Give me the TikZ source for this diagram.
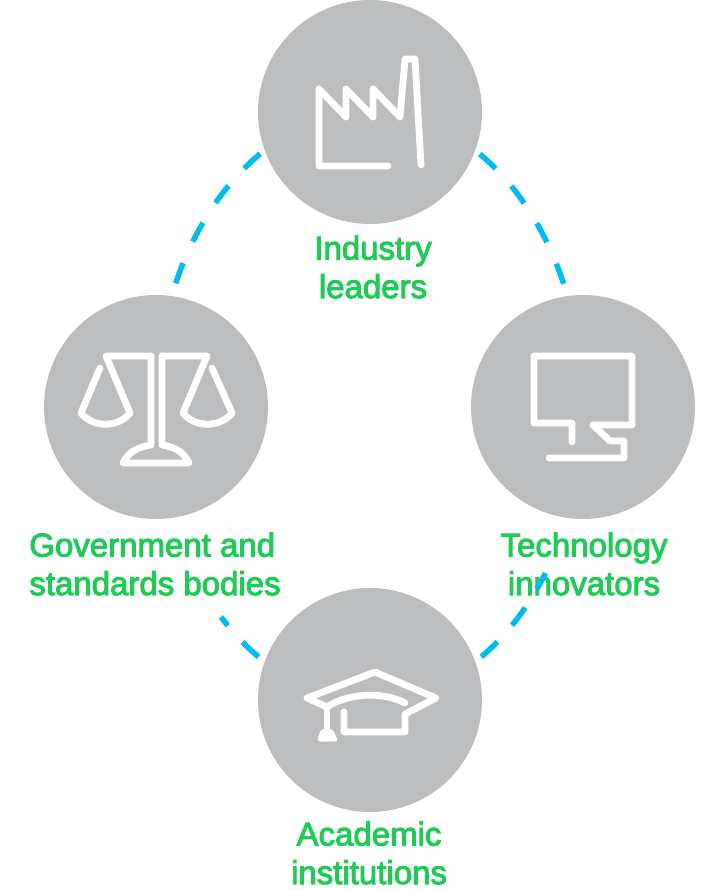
\documentclass[tikz,border=0pt]{standalone}
\usepackage{fontspec}
\newfontfamily\labelfont[FakeBold=3]{Liberation Sans}
\definecolor{discgrey}{HTML}{BCBDBF}
\definecolor{linkblue}{HTML}{00BCF0}
\definecolor{labelgreen}{HTML}{1FCB57}
\tikzset{
  disc/.style={circle, fill=discgrey, minimum size=224pt, inner sep=0pt},
  lab/.style={text=labelgreen, align=center, font=\labelfont\fontsize{33}{38.5}\selectfont},
  link/.style={linkblue, line width=5.5pt},
  toplink/.style={link, dash pattern=on 0pt off 120pt on 21.5pt off 23.5pt on 21.5pt off 23.5pt on 21.5pt off 23.5pt on 21.5pt off 1000pt},
  icon/.style={white, line width=6.8pt, line cap=round, line join=round}
}
\begin{document}
\begin{tikzpicture}[x=1pt, y=-1pt]
  \useasboundingbox (0,0) rectangle (720,890);
  \node[disc] (top) at (370,112) {};
  \node[disc] (left) at (156,407) {};
  \node[disc] (right) at (583,407) {};
  \node[disc] (bottom) at (370,700) {};
  \node[lab] (toplab) at (373,267) {Industry\\leaders};
  \node[lab, align=left] (leftlab) at (155,564) {Government and\\standards bodies};
  \node[lab] (rightlab) at (584,564) {Technology\\innovators};
  \node[lab] (bottomlab) at (369,853) {Academic\\institutions};
  \draw[toplink] (top.center) .. controls +(-118,0) and +(0,-163) .. (left.center);
  \draw[toplink] (top.center) .. controls +(118,0) and +(0,-163) .. (right.center);
  \draw[link, dash pattern=on 0pt off 122pt on 22pt off 22pt on 11pt off 1000pt] (bottom.center) .. controls +(-118,0) and +(0,161) .. (left.center);
  \draw[link, dash pattern=on 0pt off 122pt on 22pt off 22pt on 22pt off 22pt on 18pt off 1000pt] (bottom.center) .. controls +(118,0) and +(0,161) .. (right.center);
  % factory
  \draw[icon] (388,166) -- (319,166) -- (319,89) -- (346,117) -- (346,89) -- (373,117) -- (373,89) -- (400,117) -- (405,59) -- (415,59) -- (421,165);
  % scales
  \draw[icon] (151,356) -- (106,356) -- (130,413) .. controls (118,428) and (93,428) .. (81,413) -- (100,368);
  \draw[icon] (162,356) -- (207,356) -- (183,413) .. controls (195,428) and (220,428) .. (232,413) -- (212,368);
  \draw[icon] (151,356) -- (151,445) .. controls (138,447) and (128,452) .. (123,463) -- (189,463) .. controls (184,452) and (175,447) .. (162,445) -- (162,356);
  % monitor
  \draw[icon] (572,442) -- (572,423) -- (534,423) -- (534,356) -- (632,356) -- (632,425) -- (593,425) -- (610,441) -- (624,441) -- (624,458) -- (549,458);
  % cap
  \draw[icon] (405,703) .. controls (385,692) and (350,692) .. (327,707) -- (307,698) -- (375,672) -- (436,698) -- (405,714) -- (405,732) -- (344,732) -- (344,712);
  \draw[icon] (327,707) -- (327,732);
  \fill[white, rounded corners=3pt] (321,729) -- (333,729) -- (338,741.5) -- (317,741.5) -- cycle;
\end{tikzpicture}
\end{document}
